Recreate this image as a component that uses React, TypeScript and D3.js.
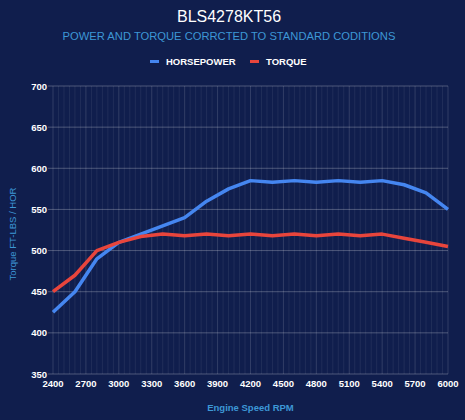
import * as d3 from "d3";
import { useRef, useEffect } from "react";

const rpm = [2400, 2600, 2800, 3000, 3200, 3400, 3600, 3800, 4000, 4200, 4400, 4600, 4800, 5000, 5200, 5400, 5600, 5800, 6000];
const horsepower = [425, 450, 490, 510, 520, 530, 540, 560, 575, 585, 583, 585, 583, 585, 583, 585, 580, 570, 550];
const torque = [450, 470, 500, 510, 517, 520, 518, 520, 518, 520, 518, 520, 518, 520, 518, 520, 515, 510, 505];
const xTicks = [2400, 2700, 3000, 3300, 3600, 3900, 4200, 4500, 4800, 5100, 5400, 5700, 6000];
const yTicks = [350, 400, 450, 500, 550, 600, 650, 700];

const W = 465;
const H = 420;
const BG = "#101e4d";
const BLUE = "#4586f0";
const RED = "#e8453c";
const LABEL_BLUE = "#3d97d6";
const FONT = "'Liberation Sans', Arial, sans-serif";

function draw(svgEl: SVGSVGElement | null) {
  if (!svgEl) return;
  const svg = d3.select(svgEl);
  svg.selectAll("*").remove();

  const margin = { left: 53, right: 17, top: 86, bottom: 46 };
  const x = d3.scaleLinear().domain([2400, 6000]).range([margin.left, W - margin.right]);
  const y = d3.scaleLinear().domain([350, 700]).range([H - margin.bottom, margin.top]);

  svg.append("rect").attr("width", W).attr("height", H).attr("fill", BG);

  // titles
  svg.append("text")
    .attr("x", 229).attr("y", 22)
    .attr("text-anchor", "middle")
    .attr("fill", "#ffffff")
    .attr("font-size", 16)
    .attr("font-family", FONT)
    .text("BLS4278KT56");
  svg.append("text")
    .attr("x", 229).attr("y", 40)
    .attr("text-anchor", "middle")
    .attr("fill", LABEL_BLUE)
    .attr("font-size", 11.2)
    .attr("font-family", FONT)
    .text("POWER AND TORQUE CORRCTED TO STANDARD CODITIONS");

  // legend
  const legend = [
    { name: "HORSEPOWER", color: BLUE, x: 150 },
    { name: "TORQUE", color: RED, x: 250 },
  ];
  const lg = svg.append("g").attr("font-family", FONT).attr("font-size", 9.5).attr("font-weight", "bold");
  legend.forEach((l) => {
    lg.append("rect").attr("x", l.x).attr("y", 60).attr("width", 9).attr("height", 3).attr("fill", l.color);
    lg.append("text").attr("x", l.x + 16).attr("y", 65).attr("fill", "#ffffff").text(l.name);
  });

  // grid
  const grid = svg.append("g");
  grid.selectAll("line.minor")
    .data(d3.range(2450, 6000, 50).filter((v) => (v - 2400) % 300 !== 0))
    .join("line")
    .attr("x1", (d) => x(d)).attr("x2", (d) => x(d))
    .attr("y1", y(700)).attr("y2", y(350))
    .attr("stroke", "#ffffff").attr("stroke-opacity", 0.07).attr("stroke-width", 1);
  grid.selectAll("line.vmajor")
    .data(xTicks)
    .join("line")
    .attr("x1", (d) => x(d)).attr("x2", (d) => x(d))
    .attr("y1", y(700)).attr("y2", y(350))
    .attr("stroke", "#ffffff").attr("stroke-opacity", 0.14).attr("stroke-width", 1);
  grid.selectAll("line.h")
    .data(yTicks)
    .join("line")
    .attr("x1", x(2400) - 5).attr("x2", x(6000))
    .attr("y1", (d) => y(d)).attr("y2", (d) => y(d))
    .attr("stroke", "#ffffff").attr("stroke-opacity", 0.25).attr("stroke-width", 1);

  // tick labels
  const tl = svg.append("g").attr("font-family", FONT).attr("font-size", 9.5).attr("font-weight", "bold").attr("fill", "#ffffff");
  tl.selectAll("text.y")
    .data(yTicks)
    .join("text")
    .attr("x", x(2400) - 6).attr("y", (d) => y(d) + 3.5)
    .attr("text-anchor", "end")
    .text((d) => d);
  tl.selectAll("text.x")
    .data(xTicks)
    .join("text")
    .attr("x", (d) => x(d)).attr("y", y(350) + 13)
    .attr("text-anchor", "middle")
    .text((d) => d);

  // axis titles
  svg.append("text")
    .attr("x", x(4200)).attr("y", 411)
    .attr("text-anchor", "middle")
    .attr("fill", LABEL_BLUE)
    .attr("font-size", 9.5).attr("font-weight", "bold")
    .attr("font-family", FONT)
    .text("Engine Speed RPM");
  svg.append("text")
    .attr("transform", `translate(16,${(y(700) + y(350)) / 2 + 4}) rotate(-90)`)
    .attr("text-anchor", "middle")
    .attr("fill", LABEL_BLUE)
    .attr("font-size", 9.5)
    .attr("font-family", FONT)
    .text("Torque FT-LBS / HOR");

  // lines
  const line = d3.line<number>()
    .x((_, i) => x(rpm[i]))
    .y((d) => y(d));
  svg.append("path").datum(horsepower).attr("d", line)
    .attr("fill", "none").attr("stroke", BLUE).attr("stroke-width", 3.5).attr("stroke-linejoin", "round");
  svg.append("path").datum(torque).attr("d", line)
    .attr("fill", "none").attr("stroke", RED).attr("stroke-width", 3.5).attr("stroke-linejoin", "round");
}

const App = () => {
  const ref = useRef<SVGSVGElement | null>(null);
  useEffect(() => {
    draw(ref.current);
  }, []);
  return (
    <svg
      ref={ref}
      width={W}
      height={H}
      style={{ position: "absolute", left: 0, top: 0, display: "block" }}
    ></svg>
  );
};

export default App;
